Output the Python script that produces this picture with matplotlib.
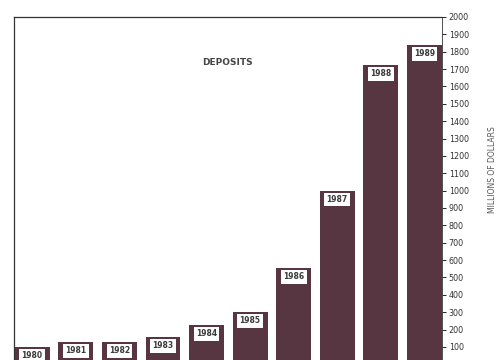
import matplotlib.pyplot as plt

years = ["1980", "1981", "1982", "1983", "1984", "1985", "1986", "1987", "1988", "1989"]
deposits = [100, 130, 130, 158, 227, 302, 555, 1000, 1725, 1840]
yticks = list(range(100, 2001, 100))

fig = plt.figure(figsize=(4.97, 3.6), dpi=100)
ax = fig.add_axes([0.028, -0.012, 0.861, 0.965])

x = list(range(len(deposits)))
ax.bar(x, deposits, width=0.8, color="#583641")
for xi, v, lab in zip(x, deposits, years):
    ax.annotate(lab, (xi, v), xytext=(0, -6.5), textcoords="offset points",
                ha="center", va="center", fontsize=5.5, fontweight="bold", color="#3a3a3a",
                bbox=dict(boxstyle="square,pad=0.3", fc="white", ec="none"))

ax.set_xlim(-0.42, 9.4)
ax.set_ylim(0, 2000)
ax.set_xticks([])
ax.yaxis.tick_right()
ax.set_yticks(yticks)
ax.set_yticklabels([str(t) for t in yticks], fontsize=5.8, color="#333333")
ax.tick_params(axis="y", direction="out", length=3, width=0.6, pad=2)
for s in ax.spines.values():
    s.set_linewidth(0.9)
    s.set_color("#333333")
ax.spines["right"].set_linewidth(0.6)

ax.text(0.5, 0.87, "DEPOSITS", transform=ax.transAxes, ha="center", va="center",
        fontsize=6.5, fontweight="bold", color="#444444")
fig.text(0.99, 0.53, "MILLIONS OF DOLLARS", rotation=90, ha="center", va="center",
         fontsize=5.5, color="#555555")

fig.savefig("out.png", dpi=100)
